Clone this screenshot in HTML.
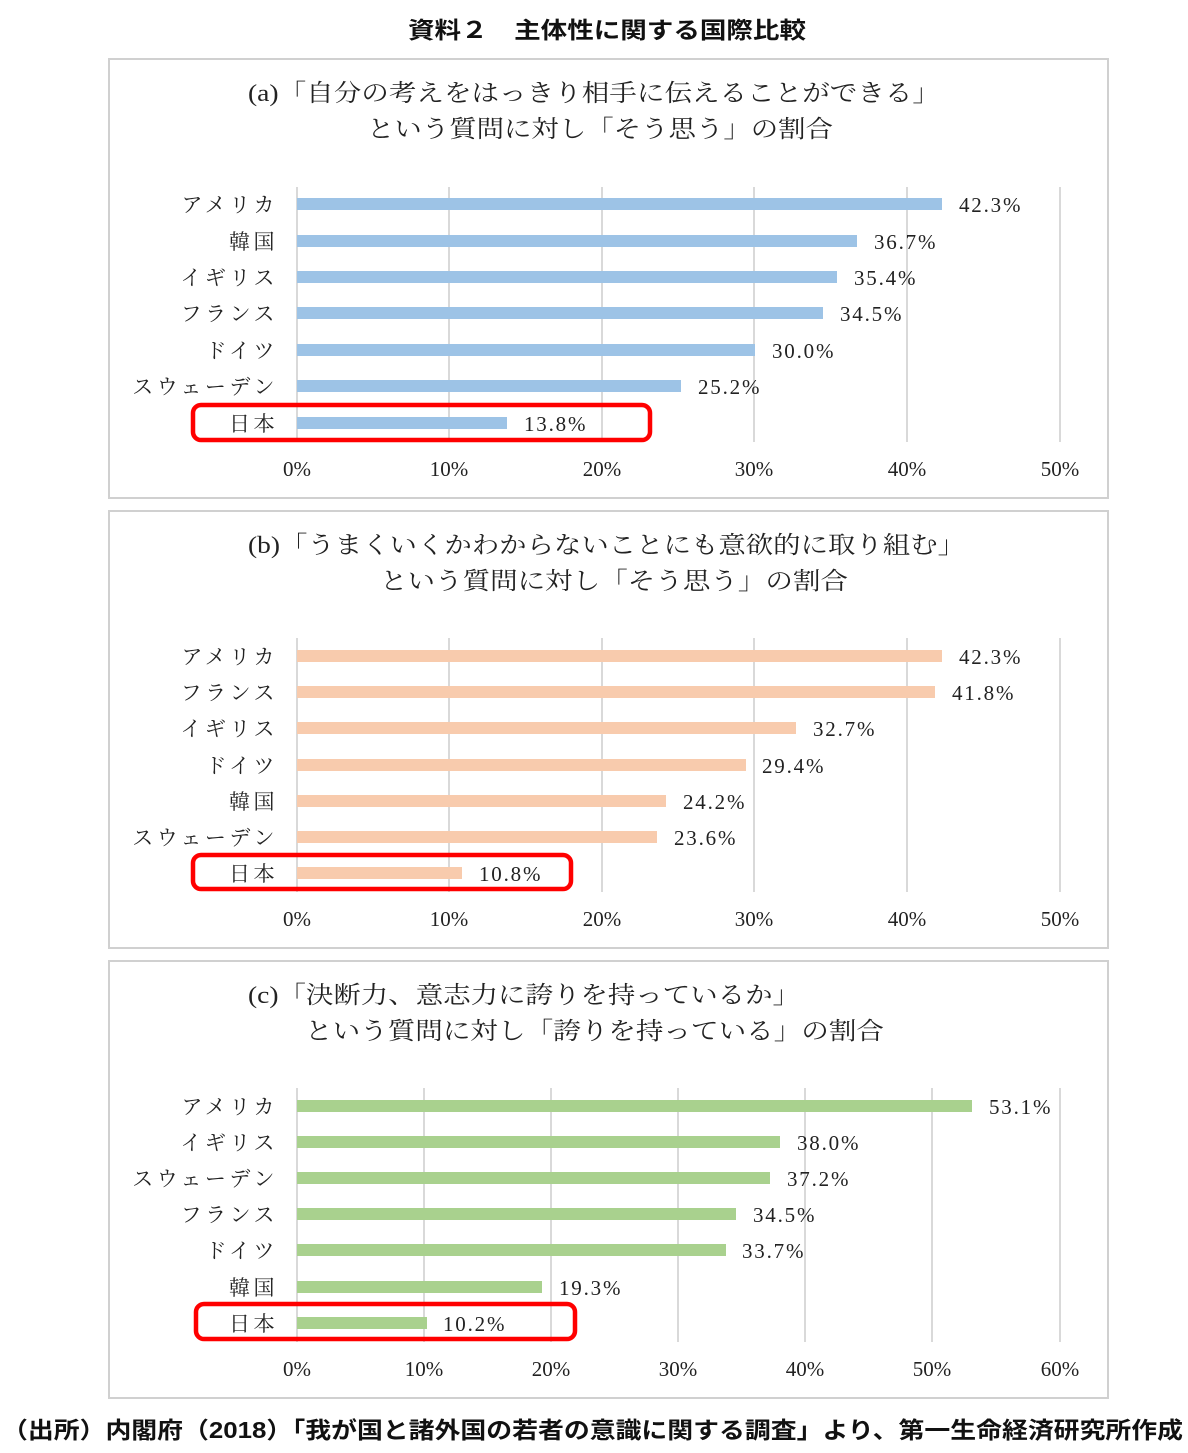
<!DOCTYPE html>
<html><head><meta charset="utf-8"><style>
body{margin:0;background:#fff}
svg{display:block}
.s{font-family:"Liberation Serif","Noto Serif CJK JP",serif;font-size:21px;fill:#222}
.c{letter-spacing:3.5px}
.v{letter-spacing:1.8px}
.t{font-family:"Liberation Serif","Noto Serif CJK JP",serif;font-size:24px;fill:#222}
.b{font-family:"Liberation Sans","Noto Sans CJK JP",sans-serif;font-size:23px;font-weight:bold;fill:#111}
.g{stroke:#d9d9d9;stroke-width:2}
</style></head><body>
<svg width="1188" height="1453" viewBox="0 0 1188 1453" xmlns="http://www.w3.org/2000/svg">
<text class="b" x="408" y="38" textLength="398" lengthAdjust="spacingAndGlyphs">資料２　主体性に関する国際比較</text>
<g fill="none" stroke="#d0d0d0" stroke-width="2">
<rect x="109" y="59" width="999" height="439"/>
<rect x="109" y="511" width="999" height="437"/>
<rect x="109" y="961" width="999" height="437"/>
</g>
<!-- Panel a -->
<text class="t" x="248" y="101" textLength="692" lengthAdjust="spacingAndGlyphs">(a)「自分の考えをはっきり相手に伝えることができる」</text>
<text class="t" x="367" y="137" textLength="466" lengthAdjust="spacingAndGlyphs">という質問に対し「そう思う」の割合</text>
<g class="g"><line x1="297" y1="187" x2="297" y2="442"/><line x1="449" y1="187" x2="449" y2="442"/><line x1="602" y1="187" x2="602" y2="442"/><line x1="754" y1="187" x2="754" y2="442"/><line x1="907" y1="187" x2="907" y2="442"/><line x1="1060" y1="187" x2="1060" y2="442"/></g>
<g fill="#9dc3e6"><rect x="297" y="198" width="645" height="12"/><rect x="297" y="235" width="560" height="12"/><rect x="297" y="271" width="540" height="12"/><rect x="297" y="307" width="526" height="12"/><rect x="297" y="344" width="458" height="12"/><rect x="297" y="380" width="384" height="12"/><rect x="297" y="417" width="210" height="12"/></g>
<g class="s c" text-anchor="end"><text x="278" y="212">アメリカ</text><text x="278" y="249">韓国</text><text x="278" y="285">イギリス</text><text x="278" y="321">フランス</text><text x="278" y="358">ドイツ</text><text x="278" y="394">スウェーデン</text><text x="278" y="431">日本</text></g>
<g class="s v"><text x="959" y="212">42.3%</text><text x="874" y="249">36.7%</text><text x="854" y="285">35.4%</text><text x="840" y="321">34.5%</text><text x="772" y="358">30.0%</text><text x="698" y="394">25.2%</text><text x="524" y="431">13.8%</text></g>
<g class="s" text-anchor="middle"><text x="297" y="476">0%</text><text x="449" y="476">10%</text><text x="602" y="476">20%</text><text x="754" y="476">30%</text><text x="907" y="476">40%</text><text x="1060" y="476">50%</text></g>
<rect x="193" y="405" width="457" height="35" rx="8" fill="none" stroke="#f00" stroke-width="4.5"/>
<!-- Panel b -->
<text class="t" x="248" y="553" textLength="717" lengthAdjust="spacingAndGlyphs">(b)「うまくいくかわからないことにも意欲的に取り組む」</text>
<text class="t" x="380" y="589" textLength="468" lengthAdjust="spacingAndGlyphs">という質問に対し「そう思う」の割合</text>
<g class="g"><line x1="297" y1="638" x2="297" y2="892"/><line x1="449" y1="638" x2="449" y2="892"/><line x1="602" y1="638" x2="602" y2="892"/><line x1="754" y1="638" x2="754" y2="892"/><line x1="907" y1="638" x2="907" y2="892"/><line x1="1060" y1="638" x2="1060" y2="892"/></g>
<g fill="#f8cbad"><rect x="297" y="650" width="645" height="12"/><rect x="297" y="686" width="638" height="12"/><rect x="297" y="722" width="499" height="12"/><rect x="297" y="759" width="449" height="12"/><rect x="297" y="795" width="369" height="12"/><rect x="297" y="831" width="360" height="12"/><rect x="297" y="867" width="165" height="12"/></g>
<g class="s c" text-anchor="end"><text x="278" y="664">アメリカ</text><text x="278" y="700">フランス</text><text x="278" y="736">イギリス</text><text x="278" y="773">ドイツ</text><text x="278" y="809">韓国</text><text x="278" y="845">スウェーデン</text><text x="278" y="881">日本</text></g>
<g class="s v"><text x="959" y="664">42.3%</text><text x="952" y="700">41.8%</text><text x="813" y="736">32.7%</text><text x="762" y="773">29.4%</text><text x="683" y="809">24.2%</text><text x="674" y="845">23.6%</text><text x="479" y="881">10.8%</text></g>
<g class="s" text-anchor="middle"><text x="297" y="926">0%</text><text x="449" y="926">10%</text><text x="602" y="926">20%</text><text x="754" y="926">30%</text><text x="907" y="926">40%</text><text x="1060" y="926">50%</text></g>
<rect x="193" y="855" width="378" height="34" rx="8" fill="none" stroke="#f00" stroke-width="4.5"/>
<!-- Panel c -->
<text class="t" x="248" y="1003" textLength="552" lengthAdjust="spacingAndGlyphs">(c)「決断力、意志力に誇りを持っているか」</text>
<text class="t" x="305" y="1039" textLength="579" lengthAdjust="spacingAndGlyphs">という質問に対し「誇りを持っている」の割合</text>
<g class="g"><line x1="297" y1="1088" x2="297" y2="1342"/><line x1="424" y1="1088" x2="424" y2="1342"/><line x1="551" y1="1088" x2="551" y2="1342"/><line x1="678" y1="1088" x2="678" y2="1342"/><line x1="805" y1="1088" x2="805" y2="1342"/><line x1="932" y1="1088" x2="932" y2="1342"/><line x1="1060" y1="1088" x2="1060" y2="1342"/></g>
<g fill="#a9d18e"><rect x="297" y="1100" width="675" height="12"/><rect x="297" y="1136" width="483" height="12"/><rect x="297" y="1172" width="473" height="12"/><rect x="297" y="1208" width="439" height="12"/><rect x="297" y="1244" width="429" height="12"/><rect x="297" y="1281" width="245" height="12"/><rect x="297" y="1317" width="130" height="12"/></g>
<g class="s c" text-anchor="end"><text x="278" y="1114">アメリカ</text><text x="278" y="1150">イギリス</text><text x="278" y="1186">スウェーデン</text><text x="278" y="1222">フランス</text><text x="278" y="1258">ドイツ</text><text x="278" y="1295">韓国</text><text x="278" y="1331">日本</text></g>
<g class="s v"><text x="989" y="1114">53.1%</text><text x="797" y="1150">38.0%</text><text x="787" y="1186">37.2%</text><text x="753" y="1222">34.5%</text><text x="742" y="1258">33.7%</text><text x="559" y="1295">19.3%</text><text x="443" y="1331">10.2%</text></g>
<g class="s" text-anchor="middle"><text x="297" y="1376">0%</text><text x="424" y="1376">10%</text><text x="551" y="1376">20%</text><text x="678" y="1376">30%</text><text x="805" y="1376">40%</text><text x="932" y="1376">50%</text><text x="1060" y="1376">60%</text></g>
<rect x="196" y="1304" width="379" height="35" rx="8" fill="none" stroke="#f00" stroke-width="4.5"/>
<text class="b" x="2" y="1438" textLength="1181" lengthAdjust="spacingAndGlyphs">（出所）内閣府（2018）「我が国と諸外国の若者の意識に関する調査」より、第一生命経済研究所作成</text>
</svg>
</body></html>
